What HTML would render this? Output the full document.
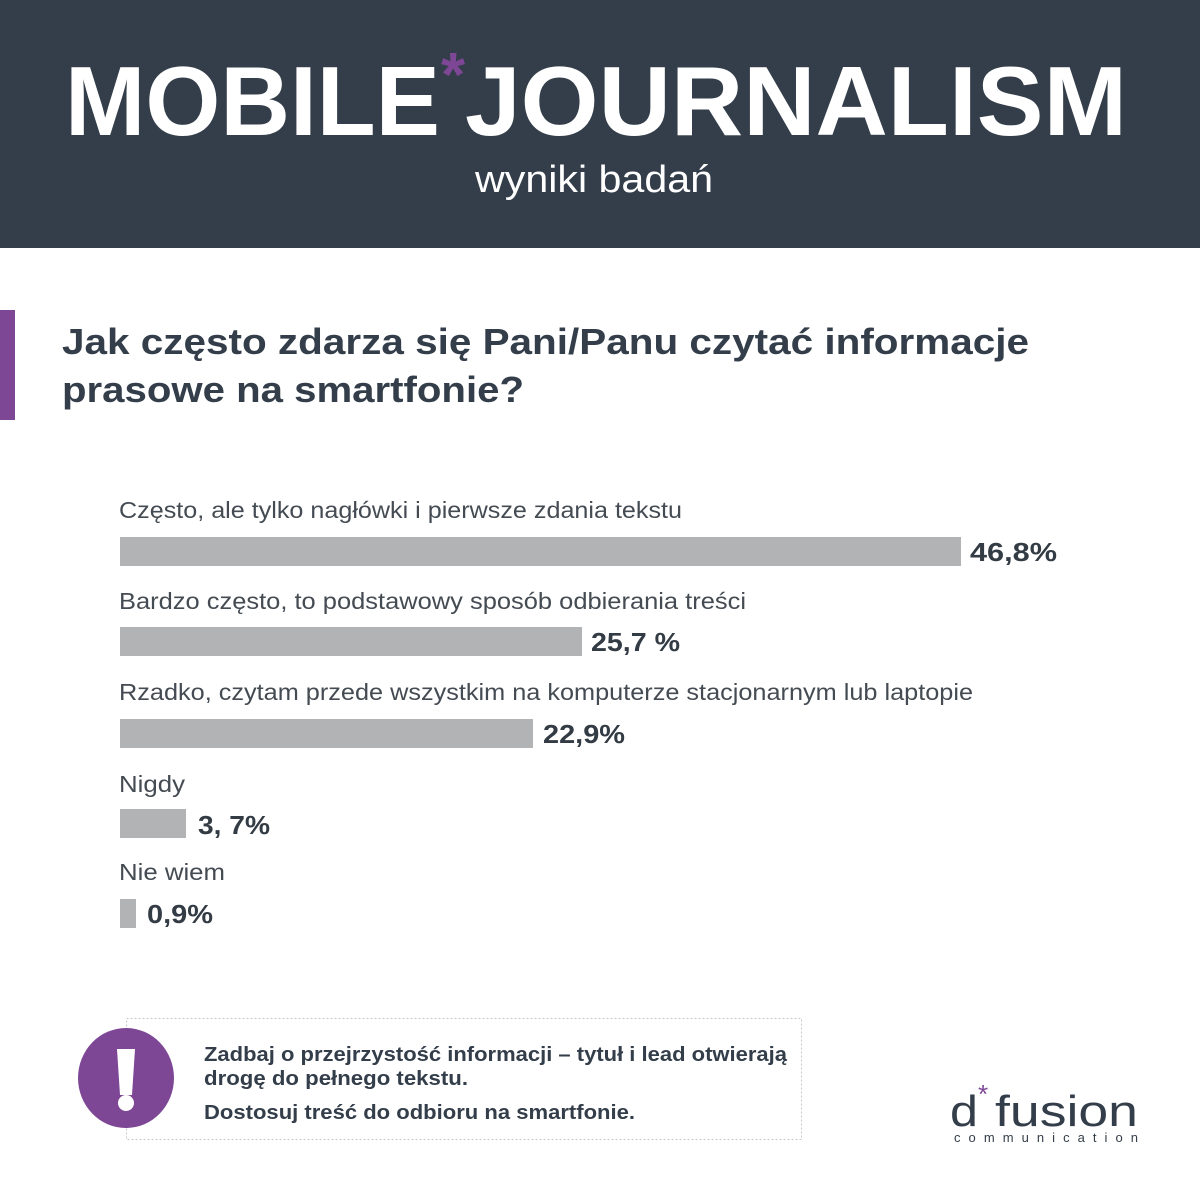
<!DOCTYPE html>
<html><head><meta charset="utf-8"><style>
html,body{margin:0;padding:0;background:#fff;}
svg{display:block;}
text{font-family:"Liberation Sans",sans-serif;}
</style></head><body>
<svg width="1200" height="1200" viewBox="0 0 1200 1200" xmlns="http://www.w3.org/2000/svg">
<rect x="0" y="0" width="1200" height="248" fill="#333e4a"/>
<text x="65" y="135" font-size="98" font-weight="bold" fill="#fff" textLength="375" lengthAdjust="spacingAndGlyphs">MOBILE</text>
<text x="441" y="96" font-size="62" font-weight="bold" fill="#7e4796">*</text>
<text x="465" y="135" font-size="98" font-weight="bold" fill="#fff" textLength="662" lengthAdjust="spacingAndGlyphs">JOURNALISM</text>
<text x="475" y="192" font-size="38" fill="#fff" textLength="238" lengthAdjust="spacingAndGlyphs">wyniki badań</text>

<rect x="0" y="310" width="15" height="110" fill="#7e4796"/>
<text x="62" y="354" font-size="36" font-weight="bold" fill="#333e4a" textLength="967" lengthAdjust="spacingAndGlyphs">Jak często zdarza się Pani/Panu czytać informacje</text>
<text x="62" y="402" font-size="36" font-weight="bold" fill="#333e4a" textLength="462" lengthAdjust="spacingAndGlyphs">prasowe na smartfonie?</text>

<g font-size="23" fill="#444b52">
<text x="119" y="518" textLength="563" lengthAdjust="spacingAndGlyphs">Często, ale tylko nagłówki i pierwsze zdania tekstu</text>
<text x="119" y="609" textLength="627" lengthAdjust="spacingAndGlyphs">Bardzo często, to podstawowy sposób odbierania treści</text>
<text x="119" y="700" textLength="854" lengthAdjust="spacingAndGlyphs">Rzadko, czytam przede wszystkim na komputerze stacjonarnym lub laptopie</text>
<text x="119" y="792" textLength="66" lengthAdjust="spacingAndGlyphs">Nigdy</text>
<text x="119" y="880" textLength="106" lengthAdjust="spacingAndGlyphs">Nie wiem</text>
</g>
<g fill="#b2b3b5">
<rect x="120" y="537" width="841" height="29"/>
<rect x="120" y="627" width="462" height="29"/>
<rect x="120" y="719" width="413" height="29"/>
<rect x="120" y="809" width="66" height="29"/>
<rect x="120" y="899" width="16" height="29"/>
</g>
<g font-size="26" font-weight="bold" fill="#333b44">
<text x="970" y="561" textLength="87" lengthAdjust="spacingAndGlyphs">46,8%</text>
<text x="591" y="651" textLength="89" lengthAdjust="spacingAndGlyphs">25,7 %</text>
<text x="543" y="743" textLength="82" lengthAdjust="spacingAndGlyphs">22,9%</text>
<text x="198" y="834" textLength="72" lengthAdjust="spacingAndGlyphs">3, 7%</text>
<text x="147" y="923" textLength="66" lengthAdjust="spacingAndGlyphs">0,9%</text>
</g>

<rect x="126.5" y="1018.5" width="675" height="121" fill="none" stroke="#c8c8c8" stroke-dasharray="2,2"/>
<ellipse cx="126" cy="1078" rx="48" ry="50" fill="#7e4796"/>
<path d="M117 1049 h18 l-3 46 h-12 z" fill="#fff"/>
<circle cx="126" cy="1103" r="8" fill="#fff"/>
<g font-size="20" font-weight="bold" fill="#333e4a">
<text x="204" y="1061" textLength="583" lengthAdjust="spacingAndGlyphs">Zadbaj o przejrzystość informacji – tytuł i lead otwierają</text>
<text x="204" y="1085" textLength="264" lengthAdjust="spacingAndGlyphs">drogę do pełnego tekstu.</text>
<text x="204" y="1119" textLength="431" lengthAdjust="spacingAndGlyphs">Dostosuj treść do odbioru na smartfonie.</text>
</g>
<text x="950" y="1126" font-size="44" fill="#333e4a" textLength="28" lengthAdjust="spacingAndGlyphs">d</text>
<text x="978" y="1103" font-size="26" fill="#7e4796">*</text>
<text x="995" y="1126" font-size="44" fill="#333e4a" textLength="143" lengthAdjust="spacingAndGlyphs">fusion</text>
<text x="954" y="1142" font-size="13" fill="#333e4a" textLength="184" lengthAdjust="spacing">communication</text>
</svg>
</body></html>
